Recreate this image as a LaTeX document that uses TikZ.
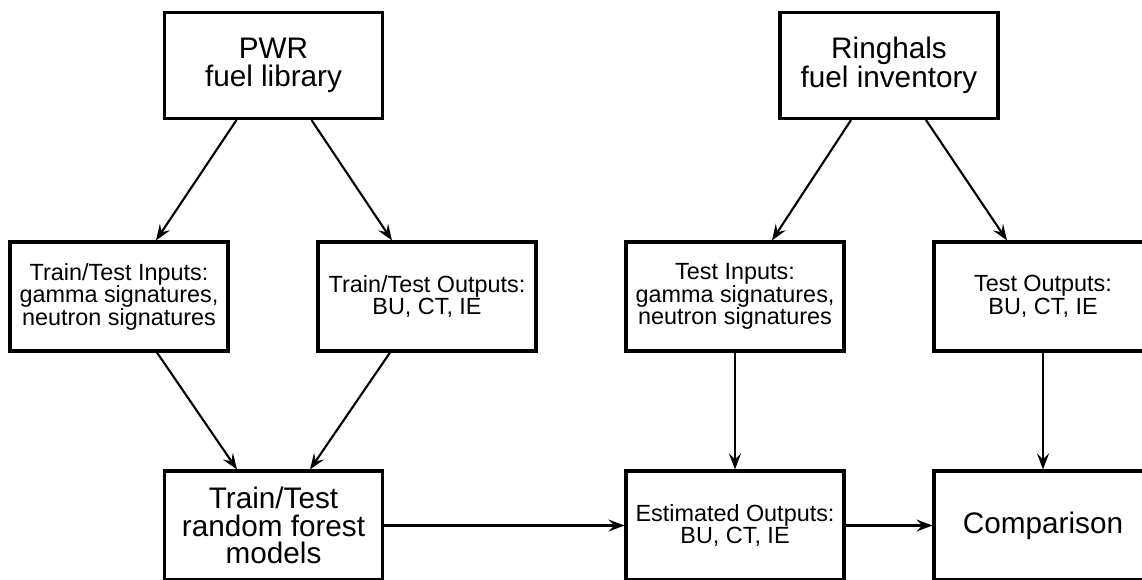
\documentclass[tikz,border=0pt]{standalone}
\usepackage{fontspec}
\setmainfont{Liberation Sans}
\usetikzlibrary{arrows.meta}
\tikzset{
  box/.style={draw=black, line width=3.1pt, minimum width=218pt, inner sep=0pt, align=center, fill=white},
  bigtext/.style={font=\fontsize{29.7}{27.5}\selectfont},
  smalltext/.style={font=\fontsize{23.4}{22.5}\selectfont},
  arr/.style={line width=2.1pt, -{Stealth[length=16pt,width=12pt,inset=6pt]}}
}
\begin{document}
\begin{tikzpicture}[x=1pt,y=-1pt]
\useasboundingbox (0,0) rectangle (1142,579);
\node[box,bigtext,minimum height=106pt] (pwr) at (273.5,65.5) {PWR\\fuel library};
\node[box,bigtext,minimum height=106pt] (ring) at (889,65.5) {Ringhals\\fuel inventory};
\node[box,smalltext,minimum height=109pt] (tin) at (119,296.5) {Train/Test Inputs:\\gamma signatures,\\neutron signatures};
\node[box,smalltext,minimum height=109pt] (tout) at (427,296.5) {Train/Test Outputs:\\BU, CT, IE};
\node[box,smalltext,minimum height=109pt] (rin) at (735,296.5) {Test Inputs:\\gamma signatures,\\neutron signatures};
\node[box,smalltext,minimum height=109pt] (rout) at (1043,296.5) {Test Outputs:\\BU, CT, IE};
\node[box,bigtext,minimum height=109pt] (rf) at (273.5,525.5) {Train/Test\\random forest\\models};
\node[box,smalltext,minimum height=109pt] (est) at (735,525.5) {Estimated Outputs:\\BU, CT, IE};
\node[box,bigtext,minimum height=109pt] (cmp) at (1043,525.5) {Comparison};
\draw[arr] ([xshift=-37pt]pwr.south) -- ([xshift=37pt]tin.north);
\draw[arr] ([xshift=38pt]pwr.south) -- ([xshift=-35pt]tout.north);
\draw[arr] ([xshift=-38pt]ring.south) -- ([xshift=37pt]rin.north);
\draw[arr] ([xshift=37pt]ring.south) -- ([xshift=-36pt]rout.north);
\draw[arr] ([xshift=38pt]tin.south) -- ([xshift=-36.5pt]rf.north);
\draw[arr] ([xshift=-37pt]tout.south) -- ([xshift=36.5pt]rf.north);
\draw[arr] (rin.south) -- (est.north);
\draw[arr] (rout.south) -- (cmp.north);
\draw[arr] (rf.east) -- (est.west);
\draw[arr] (est.east) -- (cmp.west);
\end{tikzpicture}
\end{document}
